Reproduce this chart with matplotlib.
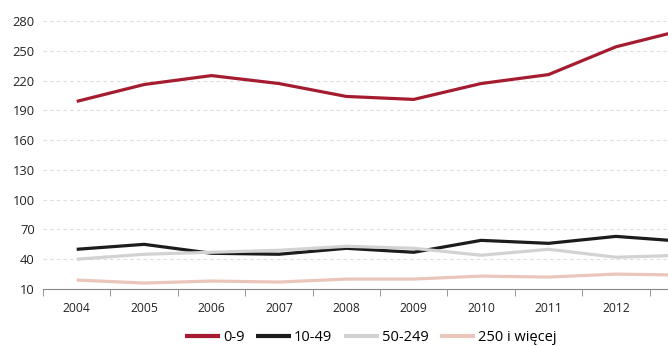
import numpy as np
import matplotlib.pyplot as plt

years = ["2004", "2005", "2006", "2007", "2008", "2009", "2010", "2011", "2012", "2013"]
s_0_9 = [199, 216, 225, 217, 204, 201, 217, 226, 254, 271]
s_10_49 = [50, 55, 46, 45, 51, 47, 59, 56, 63, 58]
s_50_249 = [40, 45, 47, 49, 53, 51, 44, 50, 42, 44]
s_250 = [19, 16, 18, 17, 20, 20, 23, 22, 25, 24]
labels = ["0-9", "10-49", "50-249", "250 i więcej"]
colors = ["#A51C30", "#1C1C1C", "#D2D2D2", "#EAC6BA"]
yticks = [10, 40, 70, 100, 130, 160, 190, 220, 250, 280]

plt.rcParams['font.family'] = ['Open Sans', 'DejaVu Sans']
fig = plt.figure(figsize=(6.68, 3.46), dpi=100)
ax = fig.add_axes([43/668, 57/346, 674/668, 268/346])

x = np.arange(len(years))
for vals, lab, c in zip([s_0_9, s_10_49, s_50_249, s_250], labels, colors):
    ax.plot(x, vals, color=c, lw=2.3, label=lab, solid_capstyle='butt')

ax.set_xlim(-0.5, len(years) - 0.5)
ax.set_ylim(10, 280)
ax.set_yticks(yticks)
ax.set_xticks(x)
ax.set_xticklabels(years, fontsize=8.7, color='#222222')
# last year falls off the right edge of the picture
ax.get_xticklabels()[-1].set_visible(False)
ax.set_xticks(np.arange(-0.5, len(years)), minor=True)
ax.tick_params(axis='x', which='major', length=0, pad=9)
ax.tick_params(axis='x', which='minor', length=5, color='#888888', direction='out')
ax.tick_params(axis='y', length=0, labelsize=9.3, labelcolor='#222222', pad=6)
for v in yticks[1:]:
    ax.axhline(v, color='#dddddd', lw=0.8, ls=(0, (3, 3)), zorder=0)
for s in ['top', 'right', 'left']:
    ax.spines[s].set_visible(False)
ax.spines['bottom'].set_color('#888888')

leg = fig.legend(loc='lower center', bbox_to_anchor=(0.555, -0.035), ncol=4, frameon=False,
                 fontsize=10.5, handlelength=2.4, handletextpad=0.2, columnspacing=0.8)
for h in leg.get_lines():
    h.set_linewidth(3)
fig.savefig("out.png", dpi=100)
